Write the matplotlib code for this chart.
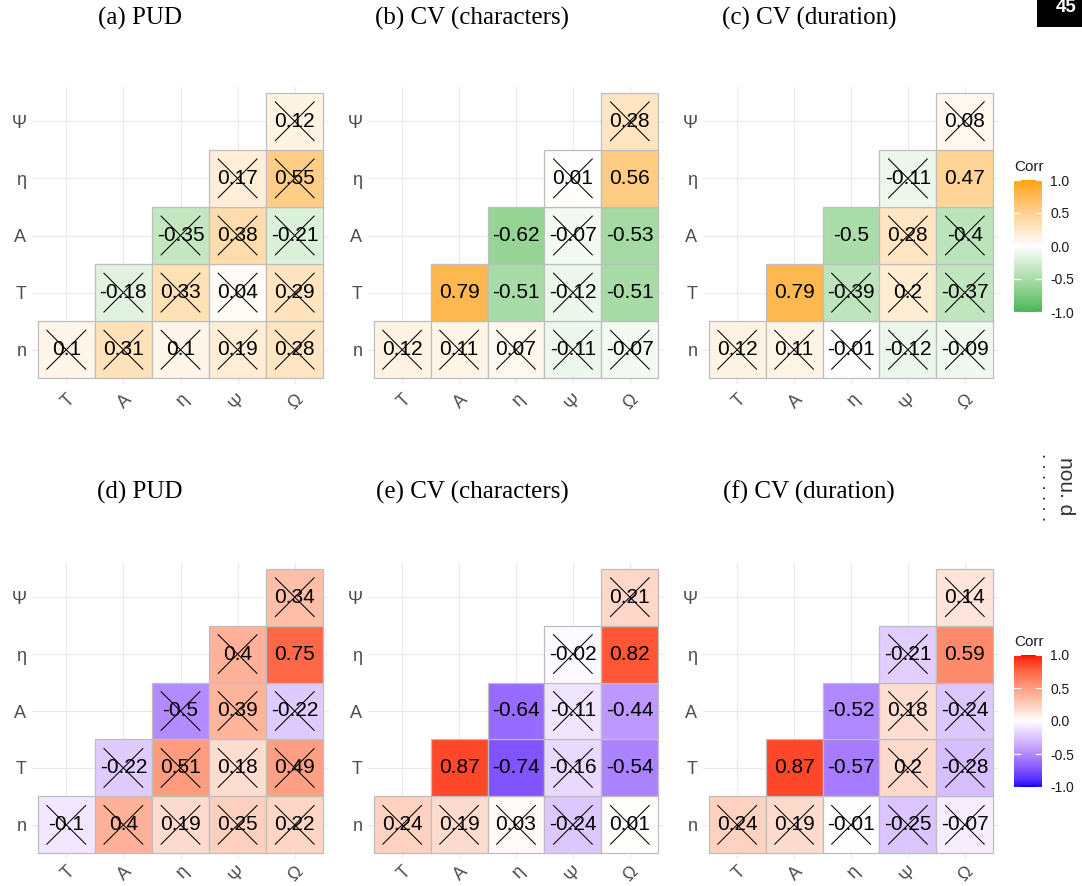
import numpy as np
import matplotlib
matplotlib.use("Agg")
import matplotlib.pyplot as plt
from matplotlib.patches import Rectangle

# ---------------- data ----------------
row_labels = ["n", "T", "A", "η", "Ψ"]          # bottom -> top
col_labels = ["T", "A", "η", "Ψ", "Ω"]          # left -> right
titles = ["(a) PUD", "(b) CV (characters)", "(c) CV (duration)",
          "(d) PUD", "(e) CV (characters)", "(f) CV (duration)"]

# values per row (row n first); None = empty cell
corr_a = [[0.1, 0.31, 0.1, 0.19, 0.28],
          [None, -0.18, 0.33, 0.04, 0.29],
          [None, None, -0.35, 0.38, -0.21],
          [None, None, None, 0.17, 0.55],
          [None, None, None, None, 0.12]]
corr_b = [[0.12, 0.11, 0.07, -0.11, -0.07],
          [None, 0.79, -0.51, -0.12, -0.51],
          [None, None, -0.62, -0.07, -0.53],
          [None, None, None, 0.01, 0.56],
          [None, None, None, None, 0.28]]
corr_c = [[0.12, 0.11, -0.01, -0.12, -0.09],
          [None, 0.79, -0.39, 0.2, -0.37],
          [None, None, -0.5, 0.28, -0.4],
          [None, None, None, -0.11, 0.47],
          [None, None, None, None, 0.08]]
corr_d = [[-0.1, 0.4, 0.19, 0.25, 0.22],
          [None, -0.22, 0.51, 0.18, 0.49],
          [None, None, -0.5, 0.39, -0.22],
          [None, None, None, 0.4, 0.75],
          [None, None, None, None, 0.34]]
corr_e = [[0.24, 0.19, 0.03, -0.24, 0.01],
          [None, 0.87, -0.74, -0.16, -0.54],
          [None, None, -0.64, -0.11, -0.44],
          [None, None, None, -0.02, 0.82],
          [None, None, None, None, 0.21]]
corr_f = [[0.24, 0.19, -0.01, -0.25, -0.07],
          [None, 0.87, -0.57, 0.2, -0.28],
          [None, None, -0.52, 0.18, -0.24],
          [None, None, None, -0.21, 0.59],
          [None, None, None, None, 0.14]]

# 1 = significant (no cross), 0 = non-significant (crossed)
sig_a = ["00000", "-0000", "--000", "---00", "----0"]
sig_b = ["00000", "-1101", "--101", "---01", "----0"]
sig_c = ["00000", "-1000", "--100", "---01", "----0"]
sig_d = ["00000", "-0000", "--000", "---01", "----0"]
sig_e = ["00000", "-1101", "--101", "---01", "----0"]
sig_f = ["00000", "-1100", "--100", "---01", "----0"]

legend_breaks = [-1.0, -0.5, 0.0, 0.5, 1.0]

# ---------------- colour helpers (Lab interpolation like ggplot) ----------------
_M = np.array([[0.4124564, 0.3575761, 0.1804375],
               [0.2126729, 0.7151522, 0.0721750],
               [0.0193339, 0.1191920, 0.9503041]])
_Minv = np.linalg.inv(_M)
_WP = np.array([0.95047, 1.0, 1.08883])


def _f(t):
    d = 6 / 29
    return np.where(t > d ** 3, np.cbrt(t), t / (3 * d * d) + 4 / 29)


def _finv(t):
    d = 6 / 29
    return np.where(t > d, t ** 3, 3 * d * d * (t - 4 / 29))


def rgb2lab(rgb):
    c = np.asarray(rgb, float)
    lin = np.where(c <= 0.04045, c / 12.92, ((c + 0.055) / 1.055) ** 2.4)
    xyz = _M @ lin / _WP
    fx, fy, fz = _f(xyz)
    return np.array([116 * fy - 16, 500 * (fx - fy), 200 * (fy - fz)])


def lab2rgb(lab):
    L, a, b = lab
    fy = (L + 16) / 116
    fx = fy + a / 500
    fz = fy - b / 200
    xyz = _finv(np.array([fx, fy, fz])) * _WP
    lin = _Minv @ xyz
    lin = np.clip(lin, 0, 1)
    c = np.where(lin <= 0.0031308, 12.92 * lin, 1.055 * lin ** (1 / 2.4) - 0.055)
    return np.clip(c, 0, 1)


def make_colfun(low, high):
    lw = rgb2lab([1, 1, 1])
    ll = rgb2lab(np.array(low) / 255)
    lh = rgb2lab(np.array(high) / 255)

    def col(v):
        v = float(np.clip(v, -1, 1))
        if v < 0:
            return lab2rgb(lw + (-v) * (ll - lw))
        return lab2rgb(lw + v * (lh - lw))
    return col


green_orange = make_colfun((72, 184, 86), (255, 165, 0))
blue_red = make_colfun((0, 0, 255), (255, 0, 0))

# ---------------- figure ----------------
W, H = 1082, 886
fig = plt.figure(figsize=(W / 100, H / 100), dpi=100)
fig.patch.set_facecolor("white")


def add_ax(x0, y0, x1, y1):
    return fig.add_axes([x0 / W, 1 - y1 / H, (x1 - x0) / W, (y1 - y0) / H])


panel_x = [(32, 329), (368, 664), (703, 999)]
panel_y = [(87, 384), (563, 859)]
title_x = [140, 472, 809]
title_y = [18, 492]
xlab_pad = [5, 3]

corrs = [corr_a, corr_b, corr_c, corr_d, corr_e, corr_f]
sigs = [sig_a, sig_b, sig_c, sig_d, sig_e, sig_f]
grid_c = "#EBEBEB"

for k in range(6):
    r, c = divmod(k, 3)
    colfun = green_orange if r == 0 else blue_red
    x0, x1 = panel_x[c]
    y0, y1 = panel_y[r]
    ax = add_ax(x0, y0, x1, y1)
    ax.set_xlim(0.4, 5.6)
    ax.set_ylim(0.4, 5.6)
    for s in ax.spines.values():
        s.set_visible(False)
    for p in range(1, 6):
        ax.axhline(p, color=grid_c, lw=0.9, zorder=0)
        ax.axvline(p, color=grid_c, lw=0.9, zorder=0)
    vals = corrs[k]
    sg = sigs[k]
    for i in range(5):
        for j in range(5):
            v = vals[i][j]
            if v is None:
                continue
            xc, yc = j + 1, i + 1
            ax.add_patch(Rectangle((xc - 0.5, yc - 0.5), 1, 1,
                                   facecolor=colfun(v), edgecolor="#BEBEBE",
                                   lw=0.9, zorder=2))
            ax.text(xc, yc, f"{v:g}", ha="center", va="center",
                    fontsize=15, family="Liberation Sans", color="black", zorder=3)
            if sg[i][j] == "0":
                d = 0.34
                ax.plot([xc - d, xc + d], [yc - d, yc + d], color="black", lw=0.75, zorder=4)
                ax.plot([xc - d, xc + d], [yc + d, yc - d], color="black", lw=0.75, zorder=4)
    ax.set_xticks(range(1, 6))
    ax.set_xticklabels(col_labels)
    ax.set_yticks(range(1, 6))
    ax.set_yticklabels(row_labels)
    ax.tick_params(length=0, labelsize=13, labelcolor="#4D4D4D")
    ax.tick_params(axis="y", pad=4)
    ax.tick_params(axis="x", pad=xlab_pad[r])
    for t in ax.get_xticklabels() + ax.get_yticklabels():
        t.set_family("Liberation Sans")
    plt.setp(ax.get_xticklabels(), rotation=45, ha="right", va="top",
             rotation_mode="anchor")
    fig.text(title_x[c] / W, 1 - title_y[r] / H, titles[k], ha="center", va="center",
             fontsize=18, family="Liberation Serif", color="black")

# ---------------- legends ----------------
leg_y = [(180, 312), (655, 787)]
for r in range(2):
    colfun = green_orange if r == 0 else blue_red
    y0, y1 = leg_y[r]
    lax = add_ax(1014, y0, 1042, y1)
    grad = np.linspace(1, -1, 200)
    img = np.array([[colfun(v)] for v in grad])
    lax.imshow(img, aspect="auto", extent=(0, 1, -1, 1), interpolation="bilinear")
    lax.set_xlim(0, 1)
    lax.set_ylim(-1, 1)
    for b in legend_breaks:
        lax.plot([0, 0.2], [b, b], color="white", lw=0.9, clip_on=False)
        lax.plot([0.8, 1], [b, b], color="white", lw=0.9, clip_on=False)
    lax.set_xticks([])
    lax.set_yticks(legend_breaks)
    lax.set_yticklabels([f"{b:.1f}" for b in legend_breaks])
    lax.yaxis.tick_right()
    lax.tick_params(length=0, labelsize=10, labelcolor="#1A1A1A", pad=6)
    for t in lax.get_yticklabels():
        t.set_family("Liberation Sans")
    for s in lax.spines.values():
        s.set_visible(False)
    fig.text(1014 / W, 1 - (y0 - 13) / H, "Corr", ha="left", va="center",
             fontsize=11, family="Liberation Sans", color="#1A1A1A")

# ---------------- page decorations ----------------
fig.patches.append(Rectangle((1037 / W, 1 - 27 / H), 45 / W, 27 / H,
                             transform=fig.transFigure, facecolor="black",
                             edgecolor="none"))
fig.text(1066 / W, 1 - 12.5 / H, "45", ha="center", va="baseline", fontsize=13.5,
         fontweight="bold", family="Liberation Sans", color="white")
fig.text(1066 / W, 1 - 486 / H, "nou. d", ha="center", va="center", rotation=-90,
         fontsize=15, family="Liberation Sans", color="#333333")
fig.text(1046 / W, 1 - 487 / H, ". . . . . . .", ha="center", va="center", rotation=-90,
         fontsize=13.5, family="Liberation Sans", color="#333333")

fig.savefig("out.png", dpi=100, facecolor="white")
